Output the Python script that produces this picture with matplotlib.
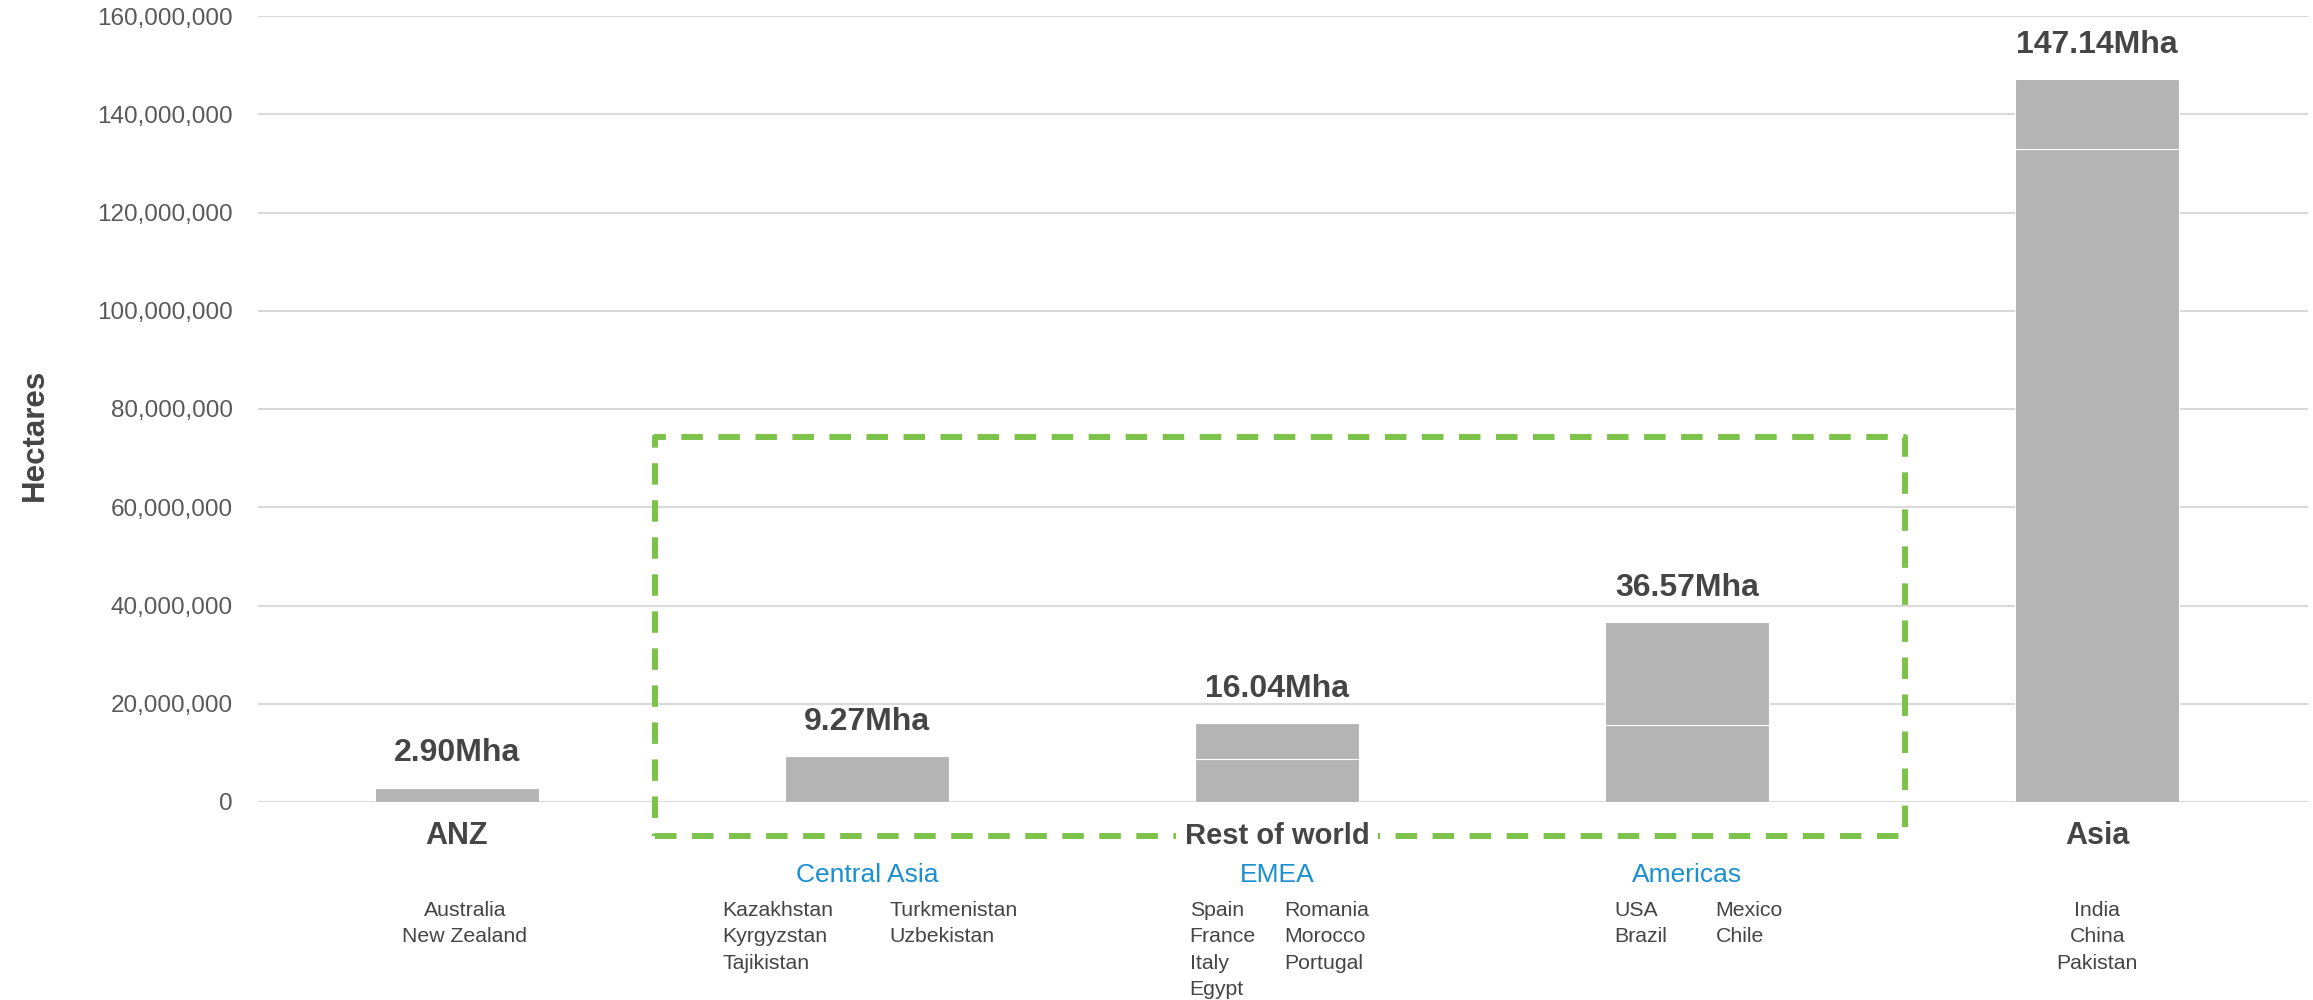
import matplotlib.pyplot as plt
from matplotlib.ticker import FuncFormatter

plt.rcParams['font.family'] = ['Liberation Sans', 'DejaVu Sans']

# data (million hectares)
regions = ['ANZ', 'Central Asia', 'EMEA', 'Americas', 'Asia']
totals = [2.90, 9.27, 16.04, 36.57, 147.14]
seg_low = [2.90, 9.27, 8.70, 15.60, 133.00]
seg_high = [0.0, 0.0, 7.34, 20.97, 14.14]
main_labels = {0: 'ANZ', 4: 'Asia'}
sub_labels = {1: 'Central Asia', 2: 'EMEA', 3: 'Americas'}
countries = {
    0: [['Australia', 'New Zealand']],
    1: [['Kazakhstan', 'Kyrgyzstan', 'Tajikistan'], ['Turkmenistan', 'Uzbekistan']],
    2: [['Spain', 'France', 'Italy', 'Egypt'], ['Romania', 'Morocco', 'Portugal']],
    3: [['USA', 'Brazil'], ['Mexico', 'Chile']],
    4: [['India', 'China', 'Pakistan']],
}
col_offsets = {1: [-0.353, 0.054], 2: [-0.213, 0.018], 3: [-0.177, 0.069]}
centre_offsets = {0: 0.02, 4: 0.0}

grey_bar = '#b4b4b4'
dark = '#454545'
tick_col = '#595959'
blue = '#1a8fd1'
green = '#7dc24b'

fig = plt.figure(figsize=(23.13, 10), dpi=100)
ax = fig.add_axes([0.1115, 0.198, 0.8865, 0.786])

x = list(range(len(regions)))
M = 1e6
ax.bar(x, [v * M for v in seg_low], width=0.4, color=grey_bar, edgecolor='white', linewidth=0.8, zorder=3)
ax.bar(x, [v * M for v in seg_high], width=0.4, bottom=[v * M for v in seg_low],
       color=grey_bar, edgecolor='white', linewidth=0.8, zorder=3)

for i, t in enumerate(totals):
    ax.annotate(f'{t:.2f}Mha', (i, t * M), xytext=(0, 14), textcoords='offset points',
                ha='center', va='bottom', fontsize=23, fontweight='bold', color=dark)

ax.set_xlim(-0.485, 4.515)
ax.set_ylim(0, 160 * M)
ax.set_yticks([i * 20 * M for i in range(9)])
ax.yaxis.set_major_formatter(FuncFormatter(lambda v, p: f'{int(v):,}'))
ax.tick_params(axis='y', length=0, pad=18, labelsize=17.5, labelcolor=tick_col)
ax.set_xticks([])
ax.grid(axis='y', color='#d9d9d9', linewidth=1.5, zorder=0)
for s in ax.spines.values():
    s.set_visible(False)

# dashed box around "rest of world"
bx = [0.483, 3.532, 3.532, 0.483, 0.483]
by = [-6.9 * M, -6.9 * M, 74.4 * M, 74.4 * M, -6.9 * M]
ax.plot(bx, by, color=green, linewidth=4.3, dashes=(3.6, 2.6), clip_on=False, zorder=4)

for i, lab in main_labels.items():
    ax.text(i, -6.9 * M, lab, ha='center', va='center', fontsize=22, fontweight='bold', color=dark, clip_on=False)
ax.text(2, -6.9 * M, 'Rest of world', ha='center', va='center', fontsize=21, fontweight='bold',
        color=dark, clip_on=False, zorder=5,
        bbox=dict(facecolor='white', edgecolor='none', pad=6))
for i, lab in sub_labels.items():
    ax.text(i, -14.8 * M, lab, ha='center', va='center', fontsize=19, color=blue, clip_on=False)

line_step = 5.4 * M
for i, cols in countries.items():
    if len(cols) == 1:
        for k, name in enumerate(cols[0]):
            ax.text(i + centre_offsets[i], -22.0 * M - k * line_step, name, ha='center', va='center',
                    fontsize=15.3, color=dark, clip_on=False)
    else:
        for c, col in enumerate(cols):
            for k, name in enumerate(col):
                ax.text(i + col_offsets[i][c], -22.0 * M - k * line_step, name, ha='left', va='center',
                        fontsize=15.3, color=dark, clip_on=False)

fig.text(35 / 2313, 1 - 435 / 1000, 'Hectares', rotation=90, ha='center', va='center',
         fontsize=22.5, fontweight='bold', color=dark)

fig.savefig('out.png', dpi=100, facecolor='white')
